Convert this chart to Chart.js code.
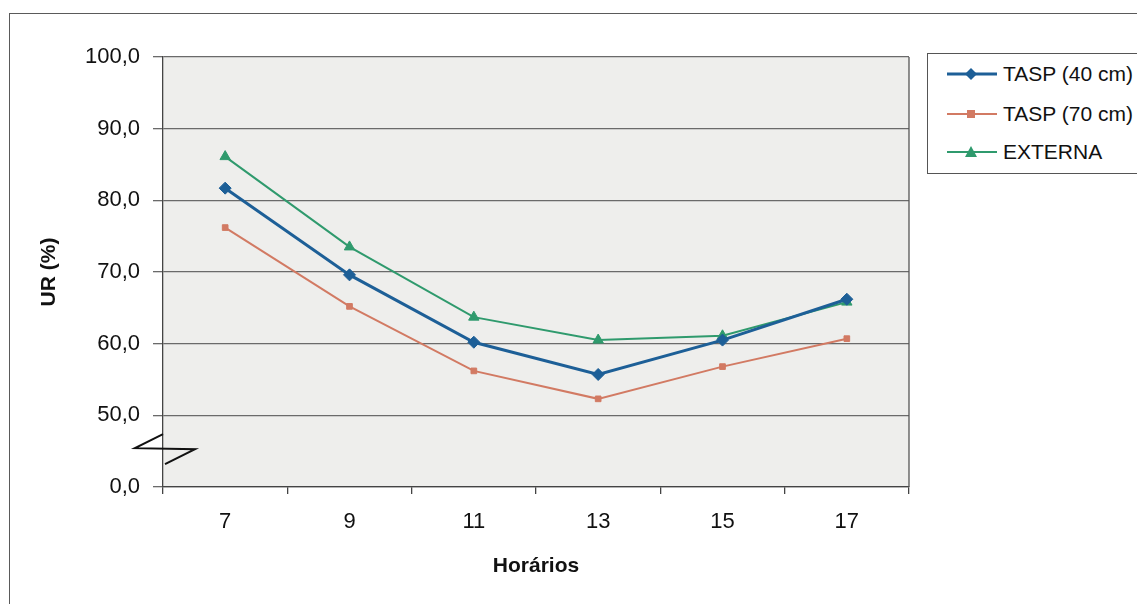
<!DOCTYPE html>
<html>
<head>
<meta charset="utf-8">
<script src="https://cdn.jsdelivr.net/npm/chart.js@4.4.1/dist/chart.umd.min.js"></script>
<style>
  html, body { margin: 0; padding: 0; background: #fff; overflow: hidden; }
  #wrap { position: relative; width: 1137px; height: 604px; overflow: hidden; }
  #frame { position: absolute; left: 9px; top: 13px; width: 1200px; height: 640px; border: 1.5px solid #5a5a5a; box-sizing: border-box; }
  #chart { position: absolute; left: 0; top: 0; }
  #legend { position: absolute; left: 927px; top: 53px; width: 230px; height: 121px; border: 1.5px solid #555; box-sizing: border-box; background: #fff;
            font-family: "Liberation Sans", Arial, sans-serif; font-size: 21px; color: #111; }
  .item { position: absolute; left: 18px; height: 30px; display: flex; align-items: center; }
  .item svg { margin-right: 5px; }
</style>
</head>
<body>
<div id="wrap">
  <div id="frame"></div>
  <canvas id="chart" width="1137" height="604"></canvas>
  <div id="legend"></div>
</div>
<script>
// Umidade relativa por horário
const horarios = ['7', '9', '11', '13', '15', '17'];
const tasp40  = [81.7, 69.6, 60.2, 55.7, 60.5, 66.2];
const tasp70  = [76.2, 65.2, 56.2, 52.3, 56.8, 60.7];
const externa = [86.1, 73.5, 63.7, 60.5, 61.1, 65.8];

// eixo quebrado: o valor 40 da escala é mostrado como 0,0
const yMin = 40, yMax = 100, yStep = 10;
const breakLabel = '0,0';

const series = [
  { label: 'TASP (40 cm)', data: tasp40,  color: '#1d5f97', style: 'rectRot',  radius: 6, width: 3 },
  { label: 'TASP (70 cm)', data: tasp70,  color: '#d27a63', style: 'rect',     radius: 4, width: 2 },
  { label: 'EXTERNA',      data: externa, color: '#2f9a6d', style: 'triangle', radius: 6, width: 2 }
];

const plotBg = {
  id: 'plotBg',
  beforeDraw(chart) {
    const { ctx, chartArea: a } = chart;
    ctx.save();
    ctx.fillStyle = '#eeeeec';
    ctx.fillRect(a.left, a.top, a.right - a.left, a.bottom - a.top);
    ctx.restore();
  },
  afterDraw(chart) {
    const { ctx, chartArea: a } = chart;
    ctx.save();
    ctx.strokeStyle = '#555';
    ctx.lineWidth = 1.3;
    ctx.beginPath();
    ctx.moveTo(a.right, a.top);
    ctx.lineTo(a.right, a.bottom);
    ctx.stroke();
    // simbolo de quebra do eixo
    const y = chart.scales.y.getPixelForValue(45);
    const x = a.left;
    ctx.strokeStyle = '#111';
    ctx.lineWidth = 2;
    ctx.beginPath();
    ctx.moveTo(x, y - 17);
    ctx.lineTo(x - 28, y - 3);
    ctx.lineTo(x + 32, y - 2);
    ctx.lineTo(x + 2, y + 13);
    ctx.stroke();
    ctx.restore();
  }
};

const fontFam = '"Liberation Sans", Arial, sans-serif';

new Chart(document.getElementById('chart'), {
  type: 'line',
  data: {
    labels: horarios,
    datasets: series.map(s => ({
      label: s.label,
      data: s.data,
      borderColor: s.color,
      backgroundColor: s.color,
      borderWidth: s.width,
      pointStyle: s.style,
      pointRadius: s.radius,
      pointBorderWidth: 1,
      tension: 0
    }))
  },
  options: {
    responsive: false,
    animation: false,
    layout: { padding: { left: 0, right: 228, top: 57, bottom: 0 } },
    plugins: { legend: { display: false }, tooltip: { enabled: false } },
    scales: {
      x: {
        offset: true,
        grid: { display: true, drawOnChartArea: false, offset: true, tickLength: 7, color: '#444', lineWidth: 1.3 },
        border: { color: '#444', width: 1.3 },
        ticks: { color: '#111', padding: 15, font: { family: fontFam, size: 22 } },
        title: { display: true, text: 'Horários', color: '#111', font: { family: fontFam, size: 21, weight: 'bold' }, padding: { top: 0, bottom: 25 } },
        afterFit(scale) { scale.height = 117; }
      },
      y: {
        min: yMin,
        max: yMax,
        ticks: {
          stepSize: yStep,
          color: '#111',
          padding: 13,
          font: { family: fontFam, size: 22 },
          callback: v => v === yMin ? breakLabel : v.toFixed(1).replace('.', ',')
        },
        grid: { color: '#6a6a6a', lineWidth: 1.3, tickLength: 10 },
        border: { color: '#444', width: 1.3 },
        title: { display: true, text: 'UR (%)', color: '#111', font: { family: fontFam, size: 21, weight: 'bold' }, padding: { top: 37, bottom: 0 } },
        afterFit(scale) { scale.width = 163; }
      }
    }
  },
  plugins: [plotBg]
});

// legenda em HTML (linha + marcador, como no original)
const legend = document.getElementById('legend');
const rowsY = [5, 45, 83];
function markerSvg(s) {
  let m = '';
  if (s.style === 'rectRot') m = '<polygon points="25,7 31,13 25,19 19,13" fill="' + s.color + '"/>';
  else if (s.style === 'rect') m = '<rect x="21" y="9" width="8" height="8" fill="' + s.color + '"/>';
  else m = '<polygon points="25,7 31,18 19,18" fill="' + s.color + '"/>';
  return '<svg width="52" height="26"><line x1="1" y1="13" x2="51" y2="13" stroke="' + s.color + '" stroke-width="' + s.width + '"/>' + m + '</svg>';
}
series.forEach((s, i) => {
  const div = document.createElement('div');
  div.className = 'item';
  div.style.top = rowsY[i] + 'px';
  div.innerHTML = markerSvg(s) + '<span>' + s.label + '</span>';
  legend.appendChild(div);
});
</script>
</body>
</html>
